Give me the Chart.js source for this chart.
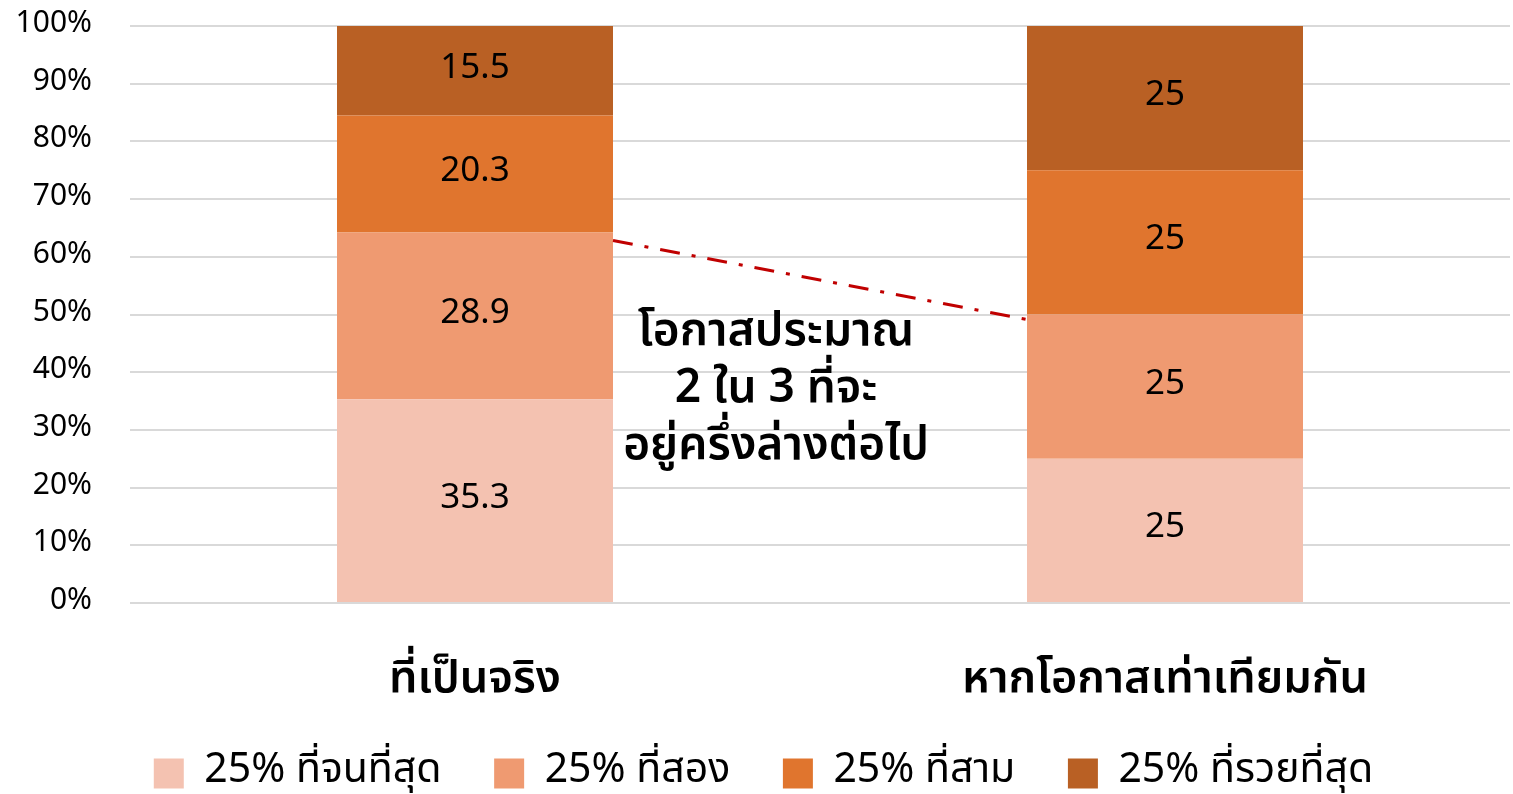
<!DOCTYPE html>
<html>
<head>
<meta charset="utf-8">
<script src="https://cdn.jsdelivr.net/npm/chart.js@4/dist/chart.umd.min.js"></script>
<style>
  body { margin: 0; background: #fff; }
  #wrap { width: 1513px; height: 794px; }
</style>
</head>
<body>
<div id="wrap"><canvas id="chart"></canvas></div>
<script>
// categories and series (percent of people from each quartile)
const categories = ['ที่เป็นจริง', 'หากโอกาสเท่าเทียมกัน'];
const poorest = [35.3, 25];
const second = [28.9, 25];
const third = [20.3, 25];
const richest = [15.5, 25];
const seriesNames = ['25% ที่จนที่สุด', '25% ที่สอง', '25% ที่สาม', '25% ที่รวยที่สุด'];
const colors = ['#F4C2B1', '#EF9A71', '#E0752E', '#B96024'];
const noteLines = ['โอกาสประมาณ', '2 ใน 3 ที่จะ', 'อยู่ครึ่งล่างต่อไป'];

const FONT = '"Noto Sans Thai", "Noto Sans", sans-serif';

// value labels in the middle of every segment
const segmentLabels = {
  id: 'segmentLabels',
  afterDatasetsDraw(chart) {
    const ctx = chart.ctx;
    ctx.save();
    ctx.fillStyle = '#000';
    ctx.font = '35px ' + FONT;
    ctx.textAlign = 'center';
    ctx.textBaseline = 'middle';
    chart.data.datasets.forEach((ds, i) => {
      chart.getDatasetMeta(i).data.forEach((bar, j) => {
        const p = bar.getProps(['x', 'y', 'base'], true);
        ctx.fillText(String(ds.data[j]), p.x, (p.y + p.base) / 2);
      });
    });
    ctx.restore();
  }
};

// dash-dot connector from bottom-half top of bar 1 to that of bar 2, plus the note
const connector = {
  id: 'connector',
  afterDatasetsDraw(chart) {
    const ctx = chart.ctx;
    const y = chart.scales.y;
    const m = chart.getDatasetMeta(1).data;
    const b0 = m[0].getProps(['x', 'width'], true);
    const b1 = m[1].getProps(['x', 'width'], true);
    const top0 = poorest[0] + second[0];
    const top1 = poorest[1] + second[1];
    ctx.save();
    ctx.strokeStyle = '#C00000';
    ctx.lineWidth = 3;
    ctx.setLineDash([20, 12, 4, 12]);
    ctx.beginPath();
    ctx.moveTo(b0.x + b0.width / 2, y.getPixelForValue(top0) + 8);
    ctx.lineTo(b1.x - b1.width / 2, y.getPixelForValue(top1) + 5);
    ctx.stroke();

    ctx.setLineDash([]);
    ctx.fillStyle = '#000';
    ctx.font = '600 46px ' + FONT;
    ctx.textAlign = 'center';
    ctx.textBaseline = 'middle';
    const cx = (b0.x + b1.x) / 2 - 44;
    noteLines.forEach((t, i) => ctx.fillText(t, cx, 336 + i * 57));
    ctx.restore();
  }
};

const datasets = [poorest, second, third, richest].map((d, i) => ({
  label: seriesNames[i],
  data: d,
  backgroundColor: colors[i],
  borderWidth: 0,
  barPercentage: 0.4,
  categoryPercentage: 1
}));

new Chart(document.getElementById('chart'), {
  type: 'bar',
  plugins: [segmentLabels, connector],
  data: { labels: categories, datasets },
  options: {
    responsive: true,
    maintainAspectRatio: false,
    animation: false,
    layout: { padding: { left: 17, right: 3, top: 0, bottom: -10 } },
    plugins: {
      tooltip: { enabled: false },
      legend: {
        position: 'bottom',
        labels: {
          color: '#000',
          boxWidth: 30,
          boxHeight: 30,
          padding: 10,
          font: { family: FONT, size: 41 },
          // extra trailing space widens the gap between legend entries
          generateLabels(chart) {
            const items = Chart.defaults.plugins.legend.labels.generateLabels(chart);
            items.forEach((it, i) => { if (i < items.length - 1) it.text += '    '; });
            return items;
          }
        }
      }
    },
    scales: {
      x: {
        stacked: true,
        grid: { display: false },
        border: { display: false },
        ticks: { color: '#000', padding: 45, font: { family: FONT, size: 45, weight: '600' } },
        afterFit(scale) {
          scale.height -= 12;
        }
      },
      y: {
        stacked: true,
        min: 0,
        max: 100,
        grid: { color: '#D9D9D9', lineWidth: 2, drawTicks: false },
        border: { display: false },
        ticks: {
          stepSize: 10,
          color: '#000',
          padding: 38,
          font: { family: FONT, size: 30 },
          callback: v => v + '%'
        },
        afterFit(scale) {
          scale.width = 113;
          scale.paddingTop = 26;
          scale.paddingBottom = 10;
        }
      }
    }
  }
});
</script>
</body>
</html>
